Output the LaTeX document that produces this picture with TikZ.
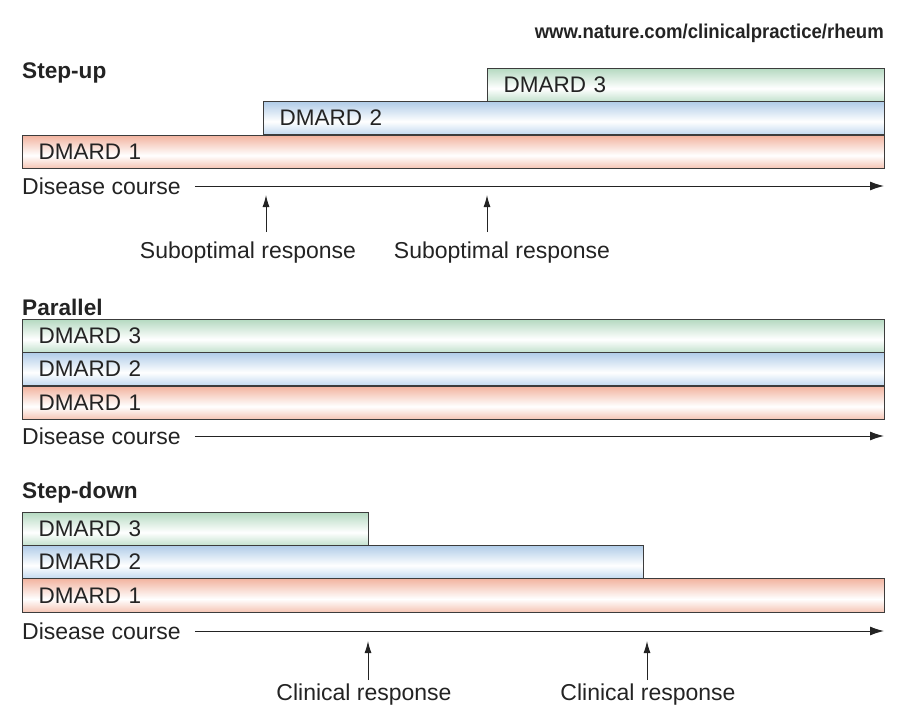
\documentclass[tikz,border=0pt]{standalone}
\usepackage{fontspec}
\setmainfont{Liberation Sans}
\usetikzlibrary{arrows.meta}

\definecolor{ink}{RGB}{35,35,35}
\definecolor{edge}{RGB}{60,60,60}
\definecolor{greentop}{RGB}{182,218,194}
\definecolor{greenbot}{RGB}{194,225,205}
\definecolor{bluetop}{RGB}{176,204,232}
\definecolor{bluebot}{RGB}{194,217,240}
\definecolor{salmontop}{RGB}{242,180,160}
\definecolor{salmonbot}{RGB}{245,195,178}

% vertical fills: light band a little below the middle of each bar
\pgfdeclareverticalshading{greenfill}{100bp}{color(0bp)=(greenbot); color(25bp)=(greenbot);
  color(45bp)=(white); color(75bp)=(greentop); color(100bp)=(greentop)}
\pgfdeclareverticalshading{bluefill}{100bp}{color(0bp)=(bluebot); color(25bp)=(bluebot);
  color(45bp)=(white); color(75bp)=(bluetop); color(100bp)=(bluetop)}
\pgfdeclareverticalshading{salmonfill}{100bp}{color(0bp)=(salmonbot); color(25bp)=(salmonbot);
  color(45bp)=(white); color(75bp)=(salmontop); color(100bp)=(salmontop)}

\tikzset{
  txt/.style={font=\fontsize{23}{25}\selectfont, text=ink, inner sep=0pt},
  title/.style={txt, font=\fontsize{22.6}{25}\selectfont\bfseries, anchor=west},
  bar/.style={draw=edge, line width=1.2pt, anchor=north west, inner xsep=16pt,
    inner ysep=0pt, minimum height=33pt, align=left, text=ink,
    font=\fontsize{22.5}{24}\selectfont},
  greenbar/.style={bar, shading=greenfill},
  bluebar/.style={bar, shading=bluefill},
  salmonbar/.style={bar, shading=salmonfill},
  course/.style={draw=ink, line width=1pt, -{Latex[length=14pt,width=9pt]}},
  cue/.style={draw=ink, line width=1pt, -{Latex[length=12pt,width=7pt]}},
}

% name, x1, y1, x2, y2, style, label
\newcommand\drugbar[7]{%
  \node[#6, text width={(#4-#2-32)*1pt}, minimum height={(#5-#3)*1pt}] (#1) at (#2,#3) {#7};}

\begin{document}
\begin{tikzpicture}[x=1pt,y=-1pt]
\useasboundingbox (0,0) rectangle (901,715);

% journal address
\node[anchor=east, inner sep=0pt, text=ink] (url) at (884,33)
  {\resizebox{349pt}{\height}{\fontsize{20}{22}\selectfont\bfseries www.nature.com/clinicalpractice/rheum}};

% ---------------- Step-up ----------------
\node[title] (t1) at (22,73) {Step-up};
\drugbar{u3}{487}{68}{884}{101}{greenbar}{DMARD 3}
\drugbar{u2}{263}{101}{884}{134}{bluebar}{DMARD 2}
\drugbar{u1}{22}{135}{884}{168}{salmonbar}{DMARD 1}
\node[txt, anchor=west] (c1) at (22,186) {Disease course};
\coordinate (c1end) at (884,186);
\draw[course] (c1.east) ++(14,0) -- (c1end);

\coordinate (s1top) at (266,195);
\coordinate (s1bot) at (266,232);
\coordinate (s2top) at (487,195);
\coordinate (s2bot) at (487,232);
\draw[cue] (s1bot) -- (s1top);
\draw[cue] (s2bot) -- (s2top);
\node[txt] (r1) at (248,253) {Suboptimal response};
\node[txt] (r2) at (502,253) {Suboptimal response};

% ---------------- Parallel ----------------
\node[title] (t2) at (22,307) {Parallel};
\drugbar{p3}{22}{319}{884}{352}{greenbar}{DMARD 3}
\drugbar{p2}{22}{352}{884}{385}{bluebar}{DMARD 2}
\drugbar{p1}{22}{386}{884}{419}{salmonbar}{DMARD 1}
\node[txt, anchor=west] (c2) at (22,436) {Disease course};
\coordinate (c2end) at (884,436);
\draw[course] (c2.east) ++(14,0) -- (c2end);

% ---------------- Step-down ----------------
\node[title] (t3) at (22,493) {Step-down};
\drugbar{d3}{22}{512}{368}{545}{greenbar}{DMARD 3}
\drugbar{d2}{22}{545}{643}{578}{bluebar}{DMARD 2}
\drugbar{d1}{22}{578}{884}{612}{salmonbar}{DMARD 1}
\node[txt, anchor=west] (c3) at (22,631) {Disease course};
\coordinate (c3end) at (884,631);
\draw[course] (c3.east) ++(14,0) -- (c3end);

\coordinate (k1top) at (368,641);
\coordinate (k1bot) at (368,680);
\coordinate (k2top) at (647,641);
\coordinate (k2bot) at (647,680);
\draw[cue] (k1bot) -- (k1top);
\draw[cue] (k2bot) -- (k2top);
\node[txt] (q1) at (364,695) {Clinical response};
\node[txt] (q2) at (648,695) {Clinical response};
\end{tikzpicture}
\end{document}
